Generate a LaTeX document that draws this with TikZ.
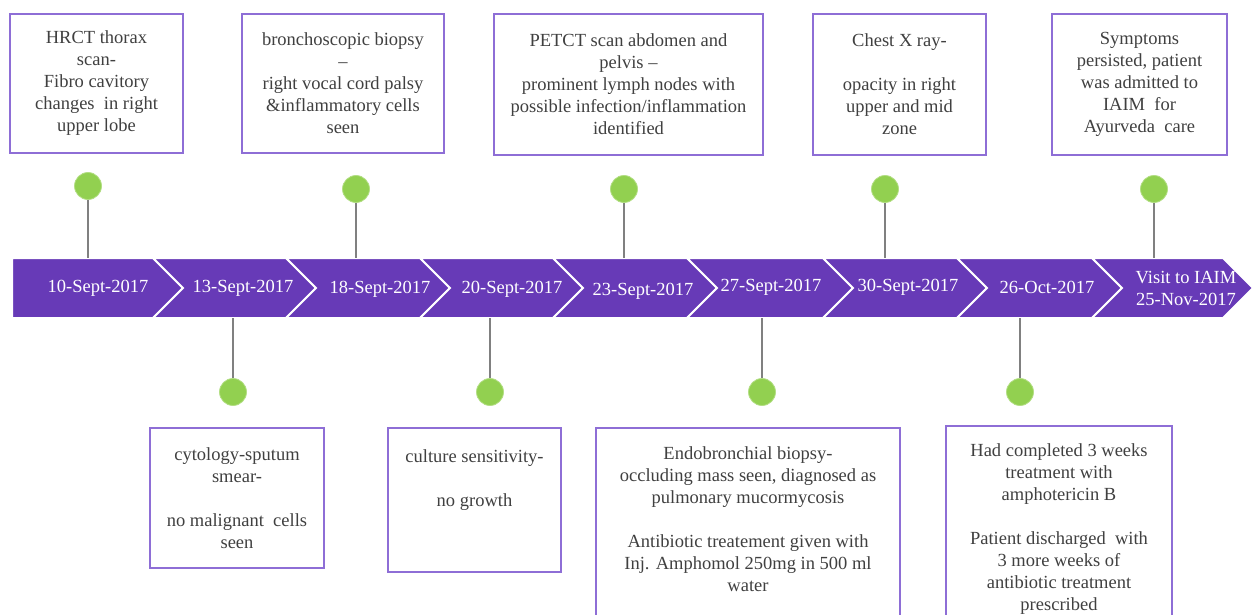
\documentclass[tikz,border=0pt]{standalone}
\usepackage{fontspec}
\setmainfont{Liberation Serif}
\definecolor{band}{RGB}{103,58,183}
\definecolor{boxline}{RGB}{142,110,214}
\definecolor{dotgreen}{RGB}{146,208,80}
\definecolor{stemgray}{RGB}{128,128,128}
\definecolor{txt}{RGB}{64,64,64}
\begin{document}
\begin{tikzpicture}[x=1pt,y=-1pt,
 box/.style={draw=boxline, line width=1.8pt, fill=white, inner sep=0pt, align=center, text=txt, font=\fontsize{18.5}{22}\selectfont},
 dot/.style={circle, fill=dotgreen, draw=dotgreen!70!white, line width=0.8pt, minimum size=27pt, inner sep=0pt},
 stem/.style={draw=stemgray, line width=2pt},
 seg/.style={fill=band, draw=white, line width=2pt, line join=miter},
 datelbl/.style={text=white, font=\fontsize{18.5}{22}\selectfont, align=center, inner sep=0pt}]
\useasboundingbox (0,0) rectangle (1253,615);

% band of chevrons
\path[seg] (12,258) -- (153,258) -- (183,288) -- (153,318) -- (12,318) -- cycle;
\foreach \a/\b in {183/316, 316/450, 450/583, 583/717, 717/853, 853/987, 987/1122, 1122/1253}
  \path[seg] (\a-30,258) -- (\b-30,258) -- (\b,288) -- (\b-30,318) -- (\a-30,318) -- (\a,288) -- cycle;

% date labels
\node[datelbl] (d0) at (98,288) {10-Sept-2017};
\node[datelbl] (d1) at (243,288) {13-Sept-2017};
\node[datelbl] (d2) at (380,289) {18-Sept-2017};
\node[datelbl] (d3) at (512,289) {20-Sept-2017};
\node[datelbl] (d4) at (643,291) {23-Sept-2017};
\node[datelbl] (d5) at (771,287) {27-Sept-2017};
\node[datelbl] (d6) at (908,287) {30-Sept-2017};
\node[datelbl] (d7) at (1047,287) {26-Oct-2017};
\node[datelbl] (d8) at (1186,288) {Visit to IAIM\\25-Nov-2017};

% band edge anchor points
\coordinate (t1) at (88,258);
\coordinate (t2) at (356,258);
\coordinate (t3) at (624,258);
\coordinate (t4) at (885,258);
\coordinate (t5) at (1154,258);
\coordinate (u1) at (233,318);
\coordinate (u2) at (490,318);
\coordinate (u3) at (762,318);
\coordinate (u4) at (1020,318);

% dots
\node[dot] (c1) at (88,186) {};
\node[dot] (c2) at (356,189) {};
\node[dot] (c3) at (624,189) {};
\node[dot] (c4) at (885,189) {};
\node[dot] (c5) at (1154,189) {};
\node[dot] (e1) at (233,392) {};
\node[dot] (e2) at (490,392) {};
\node[dot] (e3) at (762,392) {};
\node[dot] (e4) at (1020,392) {};

% stems
\draw[stem] (c1.south) -- (t1);
\draw[stem] (c2.south) -- (t2);
\draw[stem] (c3.south) -- (t3);
\draw[stem] (c4.south) -- (t4);
\draw[stem] (c5.south) -- (t5);
\draw[stem] (u1) -- (e1.north);
\draw[stem] (u2) -- (e2.north);
\draw[stem] (u3) -- (e3.north);
\draw[stem] (u4) -- (e4.north);

% top boxes
\node[box, minimum width=173pt, minimum height=139pt] (b1) at (96.5,83.5)
  {HRCT thorax\\scan-\\Fibro cavitory\\changes\ \ in right\\upper lobe};
\node[box, minimum width=202pt, minimum height=139pt] (b2) at (343,83.5)
  {bronchoscopic biopsy\\--\\right vocal cord palsy\\\&inflammatory cells\\seen};
\node[box, minimum width=269pt, minimum height=141pt] (b3) at (628.5,84.5)
  {PETCT scan abdomen and\\pelvis --\\prominent lymph nodes with\\possible infection/inflammation\\identified};
\node[box, minimum width=173pt, minimum height=141pt] (b4) at (899.5,84.5)
  {Chest X ray-\\\mbox{}\\opacity in right\\upper and mid\\zone};
\node[box, minimum width=175pt, minimum height=141pt] (b5) at (1139.5,84.5)
  {Symptoms\\persisted, patient\\was admitted to\\IAIM\ \ for\\Ayurveda\ \ care};

% bottom boxes
\node[box, minimum width=174pt, minimum height=140pt] (b6) at (237,498)
  {cytology-sputum\\smear-\\\mbox{}\\no malignant\ \ cells\\seen};
\node[box, minimum width=173pt, minimum height=144pt] (b7) at (474.5,500)
  {culture sensitivity-\\\mbox{}\\no growth\\\mbox{}\\\mbox{}};
\node[box, minimum width=304pt, minimum height=205pt] (b8) at (748,530.5)
  {Endobronchial biopsy-\\occluding mass seen, diagnosed as\\pulmonary mucormycosis\\\mbox{}\\Antibiotic treatement given with\\Inj. Amphomol 250mg in 500 ml\\water\\\mbox{}};
\node[box, minimum width=226pt, minimum height=207pt] (b9) at (1059,529.5)
  {Had completed 3 weeks\\treatment with\\amphotericin B\\\mbox{}\\Patient discharged\ \ with\\3 more weeks of\\antibiotic treatment\\prescribed};
\end{tikzpicture}
\end{document}
